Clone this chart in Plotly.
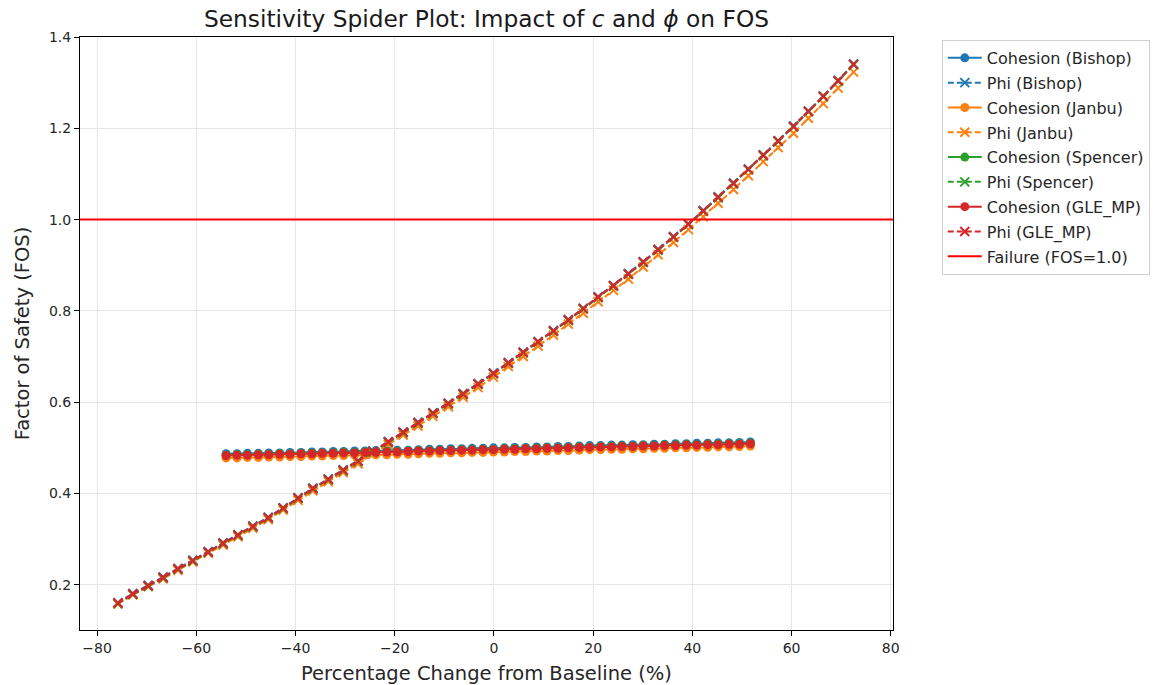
import plotly.graph_objects as go

# ---------------- data ----------------
cohesion_pct = [-54.0, -51.8, -49.7, -47.5, -45.4, -43.2, -41.1, -38.9, -36.7, -34.6,
                -32.4, -30.3, -28.1, -26.0, -23.8, -21.6, -19.5, -17.3, -15.2, -13.0,
                -10.9, -8.7, -6.5, -4.4, -2.2, -0.1, 2.1, 4.2, 6.4, 8.6,
                10.7, 12.9, 15.0, 17.2, 19.3, 21.5, 23.7, 25.8, 28.0, 30.1,
                32.3, 34.4, 36.6, 38.8, 40.9, 43.1, 45.2, 47.4, 49.5, 51.7]

phi_pct = [-75.8, -72.8, -69.7, -66.7, -63.7, -60.7, -57.6, -54.6, -51.6, -48.6,
           -45.5, -42.5, -39.5, -36.5, -33.4, -30.4, -27.4, -24.4, -21.3, -18.3,
           -15.3, -12.3, -9.2, -6.2, -3.2, -0.1, 2.9, 5.9, 8.9, 12.0,
           15.0, 18.0, 21.0, 24.1, 27.1, 30.1, 33.1, 36.2, 39.2, 42.2,
           45.2, 48.3, 51.3, 54.3, 57.3, 60.4, 63.4, 66.4, 69.4, 72.5]

coh_bishop = [0.487, 0.487, 0.488, 0.488, 0.489, 0.489, 0.490, 0.490, 0.491, 0.491,
              0.492, 0.492, 0.493, 0.493, 0.494, 0.494, 0.495, 0.495, 0.496, 0.497,
              0.497, 0.498, 0.498, 0.499, 0.499, 0.500, 0.500, 0.501, 0.501, 0.502,
              0.502, 0.503, 0.503, 0.504, 0.505, 0.505, 0.506, 0.506, 0.507, 0.507,
              0.508, 0.508, 0.509, 0.509, 0.510, 0.510, 0.511, 0.511, 0.512, 0.513]
coh_janbu = [0.478, 0.478, 0.479, 0.479, 0.480, 0.480, 0.481, 0.481, 0.482, 0.482,
             0.483, 0.483, 0.484, 0.484, 0.485, 0.485, 0.486, 0.486, 0.487, 0.488,
             0.488, 0.489, 0.489, 0.490, 0.490, 0.491, 0.491, 0.492, 0.492, 0.493,
             0.493, 0.494, 0.494, 0.495, 0.496, 0.496, 0.497, 0.497, 0.498, 0.498,
             0.499, 0.499, 0.500, 0.500, 0.501, 0.501, 0.502, 0.502, 0.503, 0.504]
coh_spencer = [0.484, 0.485, 0.485, 0.486, 0.486, 0.487, 0.487, 0.488, 0.488, 0.489,
               0.489, 0.490, 0.490, 0.491, 0.491, 0.492, 0.492, 0.493, 0.494, 0.494,
               0.495, 0.495, 0.496, 0.496, 0.497, 0.497, 0.498, 0.498, 0.499, 0.499,
               0.500, 0.500, 0.501, 0.502, 0.502, 0.503, 0.503, 0.504, 0.504, 0.505,
               0.505, 0.506, 0.506, 0.507, 0.507, 0.508, 0.508, 0.509, 0.509, 0.510]
coh_gle = [0.483, 0.484, 0.484, 0.485, 0.485, 0.486, 0.486, 0.487, 0.487, 0.488,
           0.488, 0.489, 0.489, 0.490, 0.490, 0.491, 0.491, 0.492, 0.493, 0.493,
           0.494, 0.494, 0.495, 0.495, 0.496, 0.496, 0.497, 0.497, 0.498, 0.498,
           0.499, 0.499, 0.500, 0.501, 0.501, 0.502, 0.502, 0.503, 0.503, 0.504,
           0.504, 0.505, 0.505, 0.506, 0.506, 0.507, 0.507, 0.508, 0.508, 0.509]

phi_bishop = [0.161, 0.181, 0.199, 0.217, 0.236, 0.254, 0.273, 0.292, 0.310, 0.329,
              0.348, 0.369, 0.391, 0.412, 0.432, 0.452, 0.472, 0.493, 0.514, 0.535,
              0.556, 0.577, 0.598, 0.619, 0.641, 0.664, 0.687, 0.710, 0.733, 0.757,
              0.781, 0.806, 0.831, 0.856, 0.882, 0.908, 0.935, 0.963, 0.991, 1.020,
              1.050, 1.080, 1.111, 1.142, 1.173, 1.205, 1.238, 1.271, 1.305, 1.341]
phi_janbu = [0.158, 0.178, 0.196, 0.213, 0.232, 0.250, 0.269, 0.287, 0.305, 0.324,
             0.343, 0.364, 0.385, 0.406, 0.426, 0.446, 0.465, 0.486, 0.507, 0.528,
             0.548, 0.569, 0.590, 0.611, 0.632, 0.655, 0.678, 0.700, 0.723, 0.747,
             0.771, 0.795, 0.820, 0.845, 0.870, 0.896, 0.923, 0.950, 0.978, 1.006,
             1.036, 1.066, 1.096, 1.127, 1.158, 1.189, 1.222, 1.254, 1.288, 1.323]
phi_spencer = [0.159, 0.179, 0.197, 0.215, 0.234, 0.252, 0.271, 0.290, 0.308, 0.327,
               0.346, 0.367, 0.389, 0.410, 0.430, 0.450, 0.470, 0.491, 0.512, 0.533,
               0.554, 0.575, 0.596, 0.617, 0.639, 0.662, 0.685, 0.708, 0.731, 0.755,
               0.779, 0.804, 0.829, 0.854, 0.880, 0.906, 0.933, 0.961, 0.989, 1.018,
               1.048, 1.078, 1.109, 1.140, 1.171, 1.203, 1.236, 1.269, 1.303, 1.339]
phi_gle = [0.160, 0.180, 0.198, 0.216, 0.235, 0.253, 0.272, 0.291, 0.309, 0.328,
           0.347, 0.368, 0.390, 0.411, 0.431, 0.451, 0.471, 0.492, 0.513, 0.534,
           0.555, 0.576, 0.597, 0.618, 0.640, 0.663, 0.686, 0.709, 0.732, 0.756,
           0.780, 0.805, 0.830, 0.855, 0.881, 0.907, 0.934, 0.962, 0.990, 1.019,
           1.049, 1.079, 1.110, 1.141, 1.172, 1.204, 1.237, 1.270, 1.304, 1.340]

methods = ["Bishop", "Janbu", "Spencer", "GLE_MP"]
cohesion_series = [coh_bishop, coh_janbu, coh_spencer, coh_gle]
phi_series = [phi_bishop, phi_janbu, phi_spencer, phi_gle]
colors = ["#1f77b4", "#ff7f0e", "#2ca02c", "#d62728"]
FAILURE_FOS = 1.0

x_ticks = [-80, -60, -40, -20, 0, 20, 40, 60, 80]
y_ticks = [0.2, 0.4, 0.6, 0.8, 1.0, 1.2, 1.4]

# ---------------- figure ----------------
FONT = "DejaVu Sans, Arial, sans-serif"
fig = go.Figure()

for i, (m, c_vals, p_vals, col) in enumerate(zip(methods, cohesion_series, phi_series, colors)):
    fig.add_trace(go.Scatter(
        x=cohesion_pct, y=c_vals, mode="lines+markers", name=f"Cohesion ({m})",
        line=dict(color=col, width=2),
        marker=dict(symbol="circle", size=9, color=col),
        legendgroup=f"g{2 * i}",
    ))
    fig.add_trace(go.Scatter(
        x=phi_pct, y=p_vals, mode="lines+markers", name=f"Phi ({m})",
        line=dict(color=col, width=2, dash="6px,3px"),
        marker=dict(symbol="x-thin", size=9, color=col, line=dict(color=col, width=2)),
        legendgroup=f"g{2 * i + 1}",
    ))

fig.add_hline(y=FAILURE_FOS, line=dict(color="red", width=2),
              showlegend=True, name="Failure (FOS=1.0)", legendgroup="g9")

fig.update_layout(
    width=1158, height=685,
    paper_bgcolor="white", plot_bgcolor="white",
    margin=dict(l=80, r=265, t=37, b=55, autoexpand=False),
    font=dict(family=FONT, size=14, color="#262626"),
    title=dict(
        text="Sensitivity Spider Plot: Impact of <i>c</i> and <i>ϕ</i> on FOS",
        x=0.5, xref="paper", xanchor="center",
        y=1 - 19 / 685, yref="container", yanchor="middle",
        font=dict(size=23.3, color="#1a1a1a"),
    ),
    legend=dict(
        x=1.06, y=0.995, xanchor="left", yanchor="top",
        bordercolor="#d0d0d0", borderwidth=1, bgcolor="white",
        font=dict(size=16, color="#262626"),
        tracegroupgap=1, traceorder="grouped", itemwidth=34,
    ),
    showlegend=True,
)

fig.update_xaxes(
    range=[-83.45, 80.45], tickvals=x_ticks,
    showgrid=True, gridcolor="#e6e6e6", gridwidth=1, zeroline=False,
    showline=True, linecolor="black", linewidth=1, mirror=True,
    ticks="outside", ticklen=5, tickcolor="black",
    title=dict(text="Percentage Change from Baseline (%)", font=dict(size=19.5), standoff=12),
)
fig.update_yaxes(
    range=[0.101, 1.40], tickvals=y_ticks, tickformat=".1f",
    showgrid=True, gridcolor="#e6e6e6", gridwidth=1, zeroline=False,
    showline=True, linecolor="black", linewidth=1, mirror=True,
    ticks="outside", ticklen=5, tickcolor="black",
    title=dict(text="Factor of Safety (FOS)", font=dict(size=19.5), standoff=14),
)

fig.write_html("out.html")
